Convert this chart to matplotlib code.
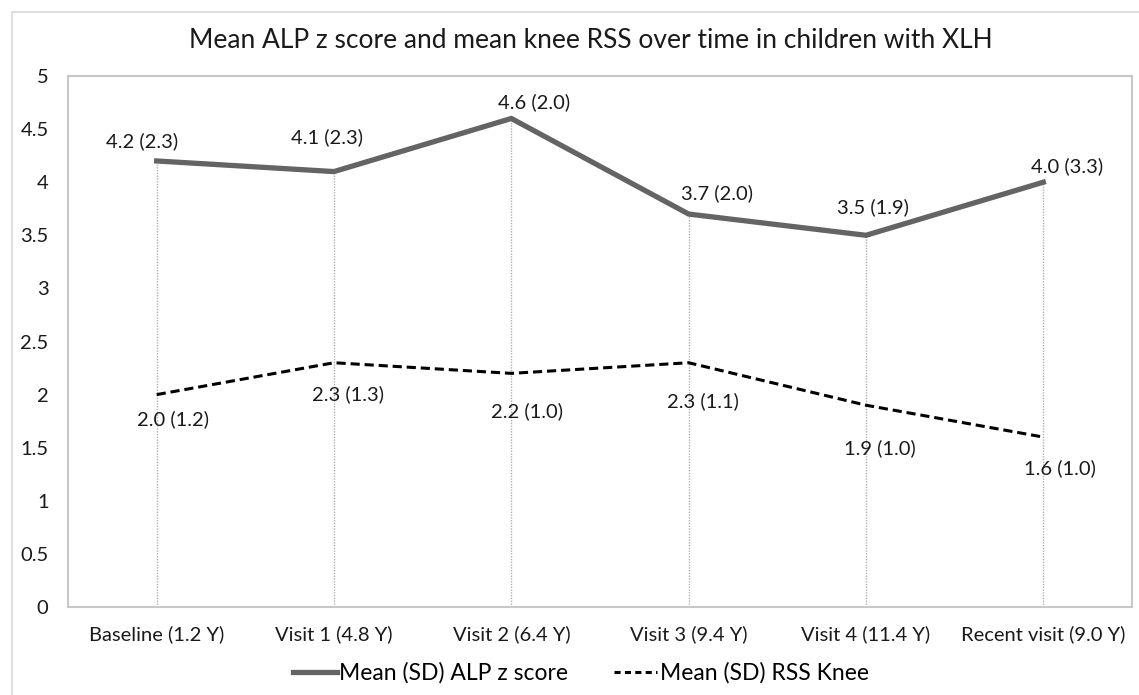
import matplotlib
matplotlib.use("Agg")
import matplotlib.pyplot as plt
from matplotlib.patches import Rectangle
from matplotlib.lines import Line2D

plt.rcParams['font.family'] = ['Lato', 'DejaVu Sans']

visits = ['Baseline (1.2 Y)', 'Visit 1 (4.8 Y)', 'Visit 2 (6.4 Y)',
          'Visit 3 (9.4 Y)', 'Visit 4 (11.4 Y)', 'Recent visit (9.0 Y)']
alp_mean = [4.2, 4.1, 4.6, 3.7, 3.5, 4.0]
alp_sd = [2.3, 2.3, 2.0, 2.0, 1.9, 3.3]
rss_mean = [2.0, 2.3, 2.2, 2.3, 1.9, 1.6]
rss_sd = [1.2, 1.3, 1.0, 1.1, 1.0, 1.0]
yticks = [0, 0.5, 1, 1.5, 2, 2.5, 3, 3.5, 4, 4.5, 5]

# hand placed label offsets (pixels), as in the original chart
alp_lab_off = [(-15, 20), (-7, 34), (23, 16), (28, 21), (7, 28), (24, 16)]
rss_lab_off = [(16, -25), (14, -31), (16, -38), (14, -38), (14, -43), (17, -31)]

W, H = 1139, 695
fig = plt.figure(figsize=(W / 100, H / 100), dpi=100)
ax = fig.add_axes([68 / W, 1 - 607 / H, (1132 - 68) / W, (607 - 76) / H])

# outer chart border
fig.patches.append(Rectangle((12 / W, -0.1), 1.2, 1 - 12 / H + 0.1,
                             transform=fig.transFigure, fill=False,
                             edgecolor='#d9d9d9', lw=1.2))

x = list(range(len(visits)))

# drop lines
ax.vlines(x, 0, alp_mean, colors='#b0b0b0', linestyles=(0, (1, 1)), lw=1)

ax.plot(x, alp_mean, color='#646464', lw=3.8, solid_joinstyle='miter')
ax.plot(x, rss_mean, color='black', lw=2.2, linestyle=(0, (3, 1.6)))

for xi, m, s, off in zip(x, alp_mean, alp_sd, alp_lab_off):
    ax.annotate(f'{m:.1f} ({s:.1f})', (xi, m), xytext=off,
                textcoords='offset pixels', ha='center', va='center',
                fontsize=14.5, color='#1a1a1a')
for xi, m, s, off in zip(x, rss_mean, rss_sd, rss_lab_off):
    ax.annotate(f'{m:.1f} ({s:.1f})', (xi, m), xytext=off,
                textcoords='offset pixels', ha='center', va='center',
                fontsize=14.5, color='#1a1a1a')

ax.set_xlim(-0.5, len(visits) - 0.5)
ax.set_ylim(0, 5)
ax.set_xticks(x)
ax.set_xticklabels(visits)
ax.set_yticks(yticks)
ax.set_yticklabels([f'{t:g}' for t in yticks])
ax.tick_params(length=0, labelsize=14.5, colors='#1a1a1a')
ax.tick_params(axis='x', pad=13)
ax.tick_params(axis='y', pad=14)
for sp in ax.spines.values():
    sp.set_color('#c8c8c8')
    sp.set_linewidth(1.5)

fig.text(591 / W, 1 - 40 / H,
         'Mean ALP z score and mean knee RSS over time in children with XLH',
         ha='center', va='center', fontsize=19, color='#1a1a1a')

handles = [Line2D([], [], color='#646464', lw=3.8),
           Line2D([], [], color='black', lw=2.2, linestyle=(0, (2, 1.4)))]
fig.legend(handles, ['Mean (SD) ALP z score', 'Mean (SD) RSS Knee'],
           loc='center', bbox_to_anchor=(581 / W, 1 - 673 / H), ncol=2,
           frameon=False, fontsize=16.5, handlelength=1.9, handletextpad=0.1,
           columnspacing=2.0, borderpad=0, borderaxespad=0)

fig.savefig('out.png', dpi=100)
